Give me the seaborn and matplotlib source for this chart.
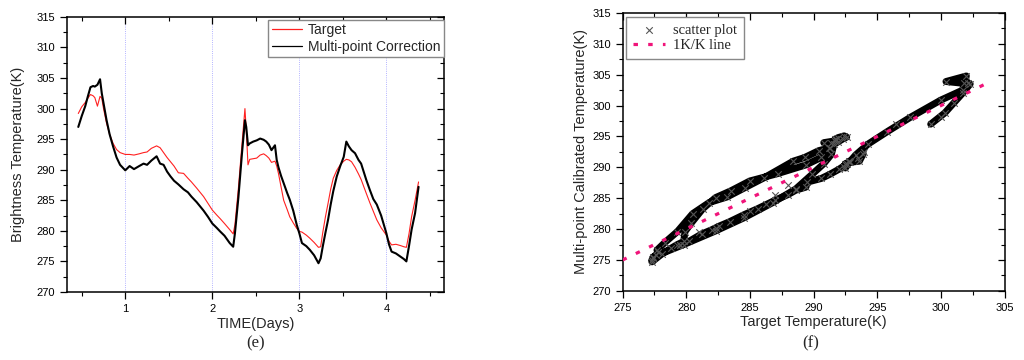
import numpy as np
import pandas as pd
import seaborn as sns
import matplotlib.pyplot as plt
from matplotlib.ticker import MultipleLocator

# readings (day, target K, corrected K)
days = [0.46, 0.50, 0.54, 0.57, 0.60, 0.63, 0.65, 0.68, 0.71, 0.73, 0.75, 0.785, 0.82, 0.86,
        0.90, 0.94, 1.00, 1.05, 1.10, 1.16, 1.21, 1.25, 1.30, 1.36, 1.40, 1.44, 1.48, 1.52,
        1.56, 1.61, 1.67, 1.72, 1.76, 1.82, 1.86, 1.90, 1.95, 2.00, 2.05, 2.09, 2.14, 2.20,
        2.24, 2.26, 2.30, 2.34, 2.375, 2.39, 2.41, 2.43, 2.47, 2.51, 2.55, 2.59, 2.62, 2.65,
        2.68, 2.72, 2.74, 2.76, 2.79, 2.82, 2.86, 2.89, 2.93, 2.97, 3.00, 3.03, 3.08, 3.12,
        3.17, 3.22, 3.245, 3.27, 3.30, 3.33, 3.36, 3.39, 3.43, 3.47, 3.51, 3.54, 3.57, 3.60,
        3.64, 3.68, 3.71, 3.77, 3.81, 3.85, 3.89, 3.94, 4.00, 4.03, 4.06, 4.11, 4.16, 4.20,
        4.23, 4.26, 4.29, 4.33, 4.37]
target_k = [299.2, 300.3, 301.0, 301.7, 302.3, 302.1, 301.8, 300.4, 302.0, 301.7, 300.0, 297.6,
            295.8, 294.3, 293.3, 292.8, 292.5, 292.5, 292.4, 292.6, 292.8, 292.9, 293.5, 293.9,
            293.6, 292.8, 292.0, 291.3, 290.6, 289.5, 289.4, 288.6, 288.0, 287.0, 286.3, 285.6,
            284.5, 283.4, 282.6, 282.0, 281.2, 280.2, 279.5, 281.0, 287.0, 294.0, 300.0, 296.5,
            290.8, 291.7, 291.8, 291.9, 292.4, 292.6, 292.3, 291.9, 291.2, 291.4, 290.6, 289.4,
            287.2, 285.0, 283.5, 282.3, 281.3, 280.4, 279.9, 279.8, 279.3, 278.8, 278.1, 277.3,
            277.4, 279.8, 282.3, 284.5, 286.8, 288.6, 289.9, 290.8, 291.4, 291.7, 291.6, 291.3,
            290.4, 289.3, 288.4, 286.1, 284.6, 283.2, 281.8, 280.5, 279.3, 278.3, 277.7, 277.8,
            277.6, 277.4, 277.3, 279.5, 282.3, 285.0, 288.0]
corrected_k = [297.0, 298.8, 300.4, 302.0, 303.5, 303.7, 303.6, 303.9, 304.8, 302.5, 300.9, 298.1,
               295.8, 293.8, 292.0, 290.8, 289.9, 290.6, 290.1, 290.6, 291.0, 290.8, 291.5, 292.2,
               291.0, 290.8, 289.7, 288.9, 288.2, 287.6, 286.8, 286.3, 285.6, 284.7, 284.0, 283.3,
               282.3, 281.2, 280.5, 279.9, 279.2, 278.0, 277.4, 279.6, 285.5, 292.5, 298.1, 297.0,
               294.0, 294.3, 294.6, 294.8, 295.1, 294.9, 294.6, 294.1, 293.2, 294.0, 291.6, 290.4,
               289.0, 287.8, 286.2, 285.1, 283.3, 281.0, 279.6, 278.0, 277.5, 276.9, 276.0, 274.7,
               275.5, 277.5, 279.7, 281.8, 284.3, 286.5, 288.9, 290.6, 292.1, 294.6, 293.8, 293.2,
               292.7, 291.6, 291.0, 288.3, 286.7, 285.2, 284.3, 282.5, 279.6, 277.8, 276.6, 276.3,
               275.8, 275.4, 275.0, 277.5, 280.2, 282.9, 287.2]
day_grid = [1, 2, 3, 4]
one_to_one = [275, 304]
# slowly varying stretches, these form the dense bands of the scatter
slow_runs = [(0.46, 2.24), (2.41, 4.23)]

df = pd.DataFrame({"day": days, "Target": target_k, "Corrected": corrected_k})
df["run"] = -1
for i, (a, b) in enumerate(slow_runs):
    df.loc[(df.day >= a) & (df.day <= b), "run"] = i

sns.set_style("ticks")
plt.rcParams['font.family'] = ['Liberation Sans', 'DejaVu Sans']
plt.rcParams['axes.linewidth'] = 1.1

fig = plt.figure(figsize=(10.24, 3.6), dpi=100)
ax1 = fig.add_axes([0.0654, 0.189, 0.368, 0.764])
ax2 = fig.add_axes([0.608, 0.192, 0.373, 0.772])

# (e) time series
for d in day_grid:
    ax1.axvline(d, color='#9a9aff', lw=0.6, ls=':', zorder=0)
sns.lineplot(data=df, x="day", y="Target", ax=ax1, color='#ff2020', lw=0.8, label='Target',
             estimator=None)
sns.lineplot(data=df, x="day", y="Corrected", ax=ax1, color='black', lw=1.5,
             label='Multi-point Correction', estimator=None)
ax1.set_xlim(0.33, 4.66)
ax1.set_ylim(270, 315)
ax1.xaxis.set_major_locator(MultipleLocator(1))
ax1.xaxis.set_minor_locator(MultipleLocator(0.5))
ax1.yaxis.set_major_locator(MultipleLocator(5))
ax1.yaxis.set_minor_locator(MultipleLocator(2.5))
ax1.set_xlabel('TIME(Days)', fontsize=10.5, labelpad=2)
ax1.set_ylabel('Brightness Temperature(K)', fontsize=10.5, labelpad=8)
leg = ax1.legend(loc='upper right', bbox_to_anchor=(1.0, 0.99), fontsize=10, frameon=True,
                 fancybox=False, edgecolor='#888888', framealpha=1, borderaxespad=0,
                 handlelength=2.2, handletextpad=0.4, borderpad=0.25, labelspacing=0.2)
leg.get_frame().set_linewidth(1.0)
for h in leg.get_lines():
    h.set_linewidth(0.9)
fig.text(0.25, 0.045, '(e)', ha='center', va='center', fontsize=12, family='Liberation Serif')

# (f) scatter of target vs corrected
slow = df[df.run >= 0]
sns.lineplot(data=slow, x="Target", y="Corrected", units="run", ax=ax2, sort=False,
             estimator=None, color='black', lw=5, zorder=2)
sns.scatterplot(data=df, x="Target", y="Corrected", ax=ax2, marker='x', color='#555555', s=22,
                linewidth=0.8, zorder=3, label='scatter plot')
sns.lineplot(x=one_to_one, y=one_to_one, ax=ax2, color='#f0147a', lw=2.3,
             ls=(0, (1.4, 3.2)), zorder=4, label='1K/K line')
ax2.set_xlim(275, 305)
ax2.set_ylim(270, 315)
ax2.xaxis.set_major_locator(MultipleLocator(5))
ax2.xaxis.set_minor_locator(MultipleLocator(2.5))
ax2.yaxis.set_major_locator(MultipleLocator(5))
ax2.yaxis.set_minor_locator(MultipleLocator(2.5))
ax2.set_xlabel('Target Temperature(K)', fontsize=10.5, labelpad=2)
ax2.set_ylabel('Multi-point Calibrated Temperature(K)', fontsize=10.5, labelpad=3)
leg2 = ax2.legend(loc='upper left', bbox_to_anchor=(0.01, 0.985), frameon=True, fancybox=False,
                  edgecolor='#888888', framealpha=1, borderaxespad=0, handlelength=2.2,
                  handletextpad=0.55, borderpad=0.45, labelspacing=0.15,
                  prop={'family': 'Liberation Serif', 'size': 10.5})
leg2.get_frame().set_linewidth(1.0)
fig.text(0.792, 0.045, '(f)', ha='center', va='center', fontsize=12, family='Liberation Serif')

for ax in (ax1, ax2):
    for s in ax.spines.values():
        s.set_visible(True)
        s.set_color('black')
    ax.tick_params(which='both', top=True, right=True, labelsize=8, colors='black')
    ax.tick_params(which='major', length=5, width=0.9)
    ax.tick_params(which='minor', length=3, width=0.8)
    # origin style: outward on left/bottom, inward on top/right
    for t in ax.xaxis.get_major_ticks() + ax.xaxis.get_minor_ticks():
        t.tick1line.set_marker(3)
        t.tick2line.set_marker(3)
    for t in ax.yaxis.get_major_ticks() + ax.yaxis.get_minor_ticks():
        t.tick1line.set_marker(0)
        t.tick2line.set_marker(0)

plt.savefig('out.png', dpi=100)
